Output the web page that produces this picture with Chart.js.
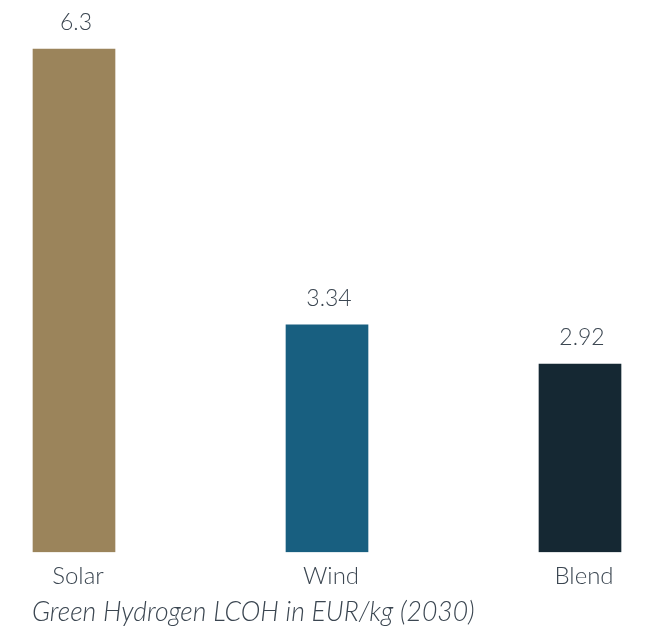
<!DOCTYPE html>
<html>
<head>
<meta charset="utf-8">
<script src="https://cdn.jsdelivr.net/npm/chart.js@4.4.1/dist/chart.umd.min.js"></script>
<style>
  html, body { margin: 0; padding: 0; background: #ffffff; }
  #wrap { width: 649px; height: 632px; position: relative; }
</style>
</head>
<body>
<div id="wrap"><canvas id="c"></canvas></div>
<script>
const categories = ["Solar", "Wind", "Blend"];
const lcohValues = [6.3, 3.34, 2.92];
const barColors = ["#9b845b", "#185f80", "#152833"];
const chartTitle = "Green Hydrogen LCOH in EUR/kg (2030)";
const axisMin = 0.9;
const axisMax = 6.3;

const textColor = "#3b4651";
const fontFamily = "Lato, 'Open Sans', sans-serif";

const valueLabels = {
  id: "valueLabels",
  afterDatasetsDraw(chart) {
    const ctx = chart.ctx;
    const meta = chart.getDatasetMeta(0);
    ctx.save();
    ctx.font = "300 23px " + fontFamily;
    ctx.fillStyle = textColor;
    ctx.textAlign = "center";
    ctx.textBaseline = "bottom";
    meta.data.forEach((bar, i) => {
      ctx.fillText(String(lcohValues[i]), bar.x + 2, bar.y - 15);
    });
    ctx.restore();
  }
};

new Chart(document.getElementById("c"), {
  type: "bar",
  data: {
    labels: categories,
    datasets: [{
      data: lcohValues,
      backgroundColor: barColors,
      barThickness: 82,
      borderWidth: 0,
      base: axisMin,
      clip: { left: false, right: false, top: false, bottom: 0 }
    }]
  },
  options: {
    responsive: true,
    maintainAspectRatio: false,
    animation: false,
    layout: { padding: { left: 32, right: 69, top: 49, bottom: 0 } },
    plugins: {
      legend: { display: false },
      tooltip: { enabled: false },
      title: {
        display: true,
        text: chartTitle,
        position: "bottom",
        align: "start",
        color: textColor,
        font: { family: fontFamily, size: 26.5, style: "italic", weight: 300 },
        padding: { top: 0, bottom: 4 }
      }
    },
    scales: {
      x: {
        offset: false,
        grid: { display: false },
        border: { display: false },
        ticks: {
          color: textColor,
          font: { family: fontFamily, size: 24, weight: 300 },
          padding: 2,
          labelOffset: 4
        },
        afterFit(scale) { scale.height = 44; }
      },
      y: {
        min: axisMin,
        max: axisMax,
        grid: { display: false },
        border: { display: false },
        ticks: { display: false },
        afterFit(scale) { scale.width = 42; }
      }
    }
  },
  plugins: [valueLabels]
});
</script>
</body>
</html>
